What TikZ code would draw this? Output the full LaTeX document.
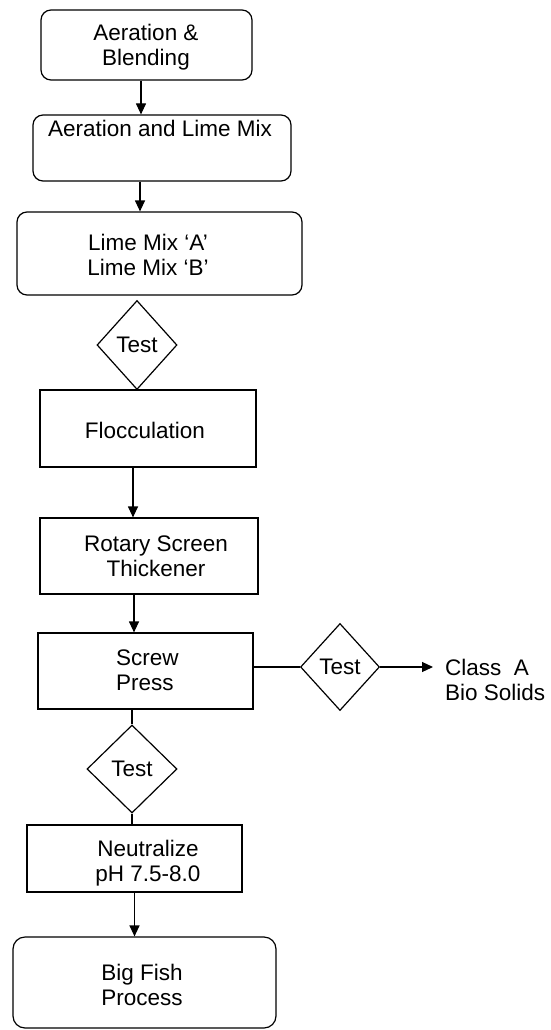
\documentclass[tikz,border=0pt]{standalone}
\usepackage{fontspec}
\setmainfont{Liberation Sans}
\usetikzlibrary{shapes.geometric,arrows.meta,calc}
\begin{document}
\begin{tikzpicture}[x=1pt,y=-1pt,
  every node/.style={font=\fontsize{22.5}{25.5}\selectfont},
  box/.style={draw,line width=1.2pt,inner sep=0pt},
  rbox/.style={box,rounded corners=10pt},
  dec/.style={draw,diamond,line width=1.2pt,inner sep=0pt},
  txt/.style={inner sep=0pt,align=center},
  line/.style={line width=1.2pt},
  arr/.style={line width=1.2pt,-{Triangle[length=11pt,width=10pt]}}]
\useasboundingbox (0,0) rectangle (550,1030);
% boxes
\node[rbox,minimum width=211pt,minimum height=70pt] (b1) at (146.5,45) {};
\node[rbox,minimum width=258pt,minimum height=66pt] (b2) at (162,148) {};
\node[rbox,minimum width=285pt,minimum height=83pt] (b3) at (159.5,253.5) {};
\node[dec,minimum width=80pt,minimum height=89pt] (d1) at (137,345) {Test};
\node[box,minimum width=216pt,minimum height=77pt] (b4) at (148,428.5) {};
\node[box,minimum width=218pt,minimum height=76pt] (b5) at (149,556) {};
\node[box,minimum width=215pt,minimum height=76pt] (b6) at (145.5,671) {};
\node[dec,minimum width=79pt,minimum height=87pt] (d2) at (340,667) {Test};
\node[dec,minimum width=90pt,minimum height=88pt] (d3) at (132,769) {Test};
\node[box,minimum width=215pt,minimum height=67pt] (b7) at (134.5,858.5) {};
\node[rbox,rounded corners=12pt,minimum width=263pt,minimum height=91pt] (b8) at (144.5,982.5) {};
% texts
\node[txt] (t1) at (146,47) {Aeration \&\\Blending};
\node[txt] (t2) at (160,128) {Aeration and Lime Mix};
\node[txt] (t3) at (148,255) {Lime Mix ‘A’\\Lime Mix ‘B’};
\node[txt] (t4) at (145,430) {Flocculation};
\node[txt] (t5) at (156,556) {Rotary Screen\\Thickener};
\node[txt,align=left,anchor=west] (t6) at (116,670) {Screw\\Press};
\node[txt,align=left,anchor=west] (cls) at (445,680) {Class\ \ A\\Bio Solids};
\node[txt] (t7) at (148,863) {Neutralize\\pH 7.5-8.0};
\node[txt] (t8) at (142,985) {Big Fish\\Process};
\coordinate (cA) at (433,667);
% connectors
\draw[arr] ([xshift=-5.5pt]b1.south) -- ([xshift=-5.5pt]b1.south |- b2.north);
\draw[arr] ([xshift=-22pt]b2.south) -- ([xshift=-22pt]b2.south |- b3.north);
\draw[arr] ([xshift=-15pt]b4.south) -- ([xshift=-15pt]b4.south |- b5.north);
\draw[arr] ([xshift=-15pt]b5.south) -- ([xshift=-15pt]b5.south |- b6.north);
\draw[line] (d2.west -| b6.east) -- (d2.west);
\draw[arr] (d2.east) -- (cA);
\draw[line] (d3.north |- b6.south) -- (d3.north);
\draw[line] (d3.south) -- (d3.south |- b7.north);
\draw[arr] (b7.south) -- (b7.south |- b8.north);
\end{tikzpicture}
\end{document}
